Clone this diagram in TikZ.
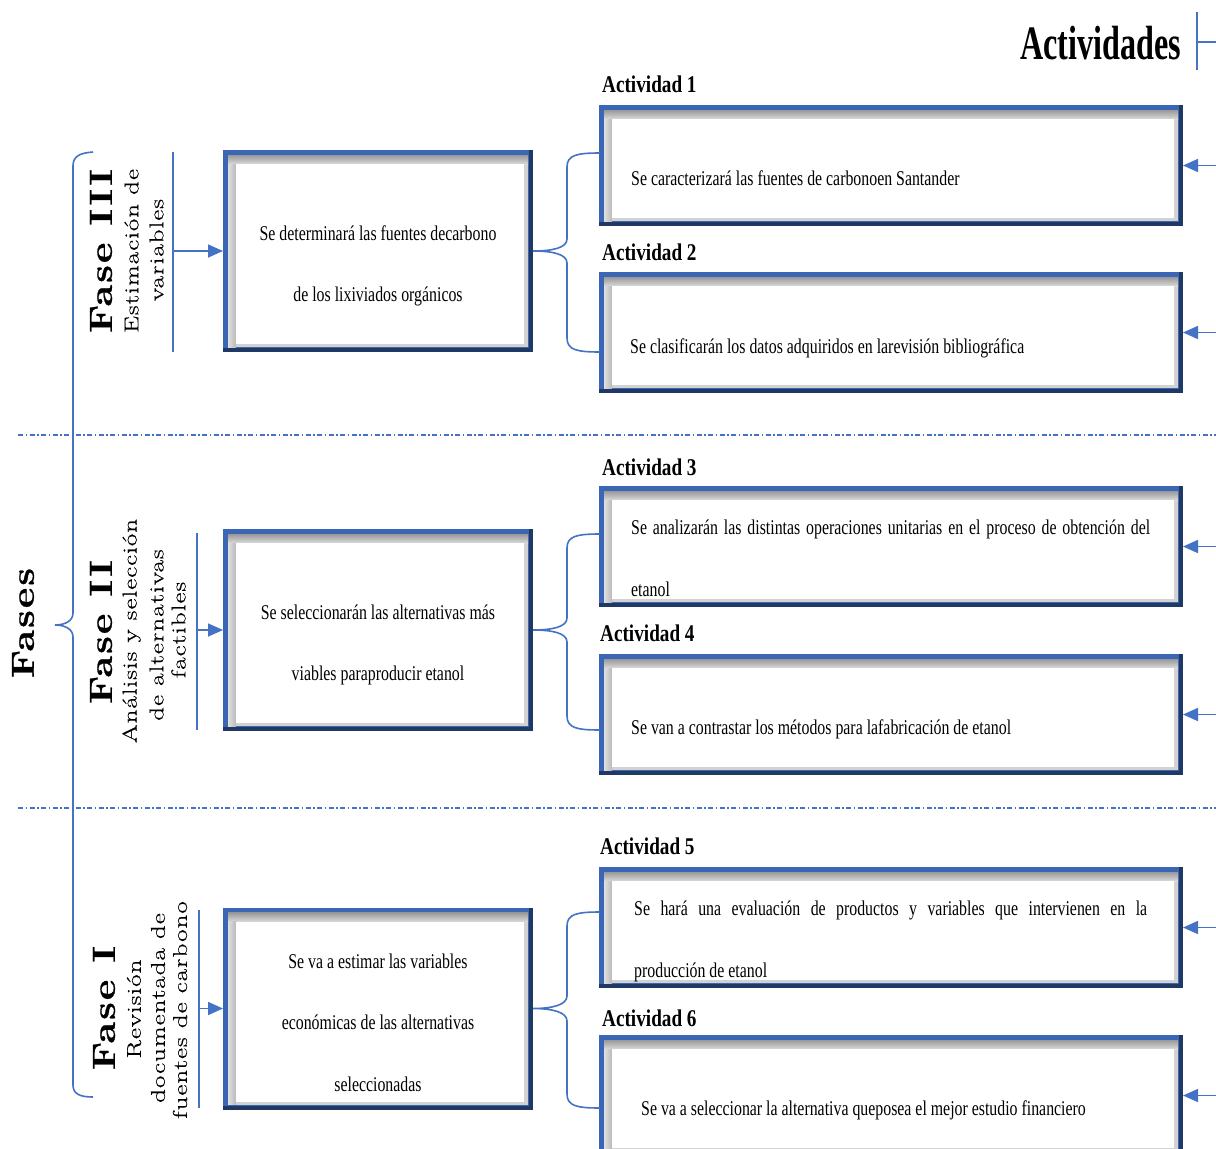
\documentclass[tikz,border=0pt]{standalone}
\usepackage{fontspec}
\usetikzlibrary{arrows.meta}
\newfontfamily\txtfont[FakeStretch=0.755]{Liberation Serif}
\newfontfamily\lblfont[FakeStretch=0.8]{Liberation Serif}
\newfontfamily\ttlfont[FakeStretch=0.67]{Liberation Serif}
\newfontfamily\fasefont[FakeStretch=1.25,LetterSpace=6,FakeBold=0.8]{Latin Modern Roman}
\newfontfamily\subfont[FakeStretch=1.35,LetterSpace=5,FakeBold=0.5]{Latin Modern Roman}
\definecolor{lineblue}{HTML}{4472C4}
\definecolor{navy}{HTML}{1F3864}
\definecolor{frameblue}{HTML}{3B65B5}
\tikzset{
  conn/.style={draw=lineblue, line width=1.6pt},
  arr/.style={conn, -{Triangle[length=15pt,width=13pt]}},
  dashdot/.style={draw=lineblue, line width=1.3pt, dash pattern=on 5pt off 2.5pt on 1.5pt off 2.5pt},
  bevelbox/.style={inner sep=0pt, outer sep=0pt, fill=navy,
    path picture={
      \fill[frameblue] ([yshift=4pt]path picture bounding box.south west) rectangle ([xshift=-4pt]path picture bounding box.north east);
      \fill[gray!35] ([shift={(5pt,5pt)}]path picture bounding box.south west) rectangle ([shift={(-5pt,-5pt)}]path picture bounding box.north east);
      \shade[top color=gray!80, bottom color=gray!30] ([shift={(5pt,-14pt)}]path picture bounding box.north west) rectangle ([shift={(-5pt,-5pt)}]path picture bounding box.north east);
      \shade[left color=gray!25, right color=gray!55] ([shift={(5pt,5pt)}]path picture bounding box.south west) rectangle ([shift={(13pt,-14pt)}]path picture bounding box.north west);
      \fill[white] ([shift={(13pt,8pt)}]path picture bounding box.south west) rectangle ([shift={(-9pt,-14pt)}]path picture bounding box.north east);
    }},
  actbox/.style={bevelbox, minimum width=584pt, minimum height=121pt},
  phbox/.style={bevelbox, minimum width=310pt, minimum height=202pt},
  txt/.style={font=\txtfont\fontsize{21}{21}\selectfont, inner sep=0pt},
  lbl/.style={font=\lblfont\bfseries\fontsize{24}{24}\selectfont, inner sep=0pt, anchor=base west},
  fase/.style={font=\fasefont\bfseries\fontsize{32}{32}\selectfont, rotate=90, inner sep=0pt},
  sub/.style={font=\subfont\fontsize{20}{20}\selectfont, rotate=90, inner sep=0pt},
}
\begin{document}
\begin{tikzpicture}[x=1pt,y=-1pt]
\clip (0,0) rectangle (1216,1149);
\fill[white] (0,0) rectangle (1216,1149);
\coordinate (R) at (1216,0);

% title
\node[font=\ttlfont\bfseries\fontsize{48}{48}\selectfont, inner sep=0pt, anchor=base west] (title) at (1020,59) {Actividades};
\coordinate (tb1) at (1197,12);
\coordinate (tb2) at (1197,70);
\coordinate (tb3) at (1197,42);
\draw[conn] (tb1) -- (tb2);
\draw[conn] (tb3) -- (tb3 -| R);

% separators
\draw[dashdot] (18,435) -- (1216,435);
\draw[dashdot] (18,808) -- (1216,808);

% activity boxes
\node[actbox] (a1) at (891,165.5) {};
\node[actbox] (a2) at (891,332.5) {};
\node[actbox] (a3) at (891,546.5) {};
\node[actbox] (a4) at (891,714.5) {};
\node[actbox] (a5) at (891,927.5) {};
\node[actbox] (a6) at (891,1095.5) {};

% phase boxes
\node[phbox] (p3) at (378,251) {};
\node[phbox] (p2) at (378,630) {};
\node[phbox] (p1) at (378,1008.5) {};

% activity labels
\node[lbl] (l1) at (602,92) {Actividad 1};
\node[lbl] (l2) at (602,260) {Actividad 2};
\node[lbl] (l3) at (602,475) {Actividad 3};
\node[lbl] (l4) at (600,641) {Actividad 4};
\node[lbl] (l5) at (600,854) {Actividad 5};
\node[lbl] (l6) at (602,1026) {Actividad 6};

% activity texts
\node[txt, anchor=base west] (t1) at (631,185) {Se caracterizará las fuentes de carbonoen Santander};
\node[txt, anchor=base west] (t2) at (630,353) {Se clasificarán los datos adquiridos en larevisión bibliográfica};
\node[txt, anchor=base west] (t3a) at (631,534) {\makebox[519pt][s]{Se analizarán las distintas operaciones unitarias en el proceso de obtención del}};
\node[txt, anchor=base west] (t3b) at (631,596) {etanol};
\node[txt, anchor=base west] (t4) at (631,734) {Se van a contrastar los métodos para lafabricación de etanol};
\node[txt, anchor=base west] (t5a) at (634,915) {\makebox[513pt][s]{Se hará una evaluación de productos y variables que intervienen en la}};
\node[txt, anchor=base west] (t5b) at (634,977) {producción de etanol};
\node[txt, anchor=base west] (t6) at (641,1115) {Se va a seleccionar la alternativa queposea el mejor estudio financiero};

% phase texts
\node[txt, anchor=base] (q3a) at (378,240) {Se determinará las fuentes decarbono};
\node[txt, anchor=base] (q3b) at (378,301) {de los lixiviados orgánicos};
\node[txt, anchor=base] (q2a) at (378,619) {Se seleccionarán las alternativas más};
\node[txt, anchor=base] (q2b) at (378,680) {viables paraproducir etanol};
\node[txt, anchor=base] (q1a) at (378,968) {Se va a estimar las variables};
\node[txt, anchor=base] (q1b) at (378,1029) {económicas de las alternativas};
\node[txt, anchor=base] (q1c) at (378,1091) {seleccionadas};

% right arrows
\foreach \n in {a1,a2,a3,a4,a5,a6}{
  \draw[arr] (\n.east -| R) -- (\n.east);
}

% right braces
\coordinate (b3t) at (600,153); \coordinate (b3b) at (600,352);
\coordinate (b2t) at (600,534); \coordinate (b2b) at (600,730);
\coordinate (b1t) at (600,912); \coordinate (b1b) at (600,1108);
\draw[conn] (b3t) .. controls (577,153) and (567,155) .. (567,167) -- (567,239)
  .. controls (567,248) and (552,251) .. (p3.east)
  .. controls (552,251) and (567,254) .. (567,263) -- (567,338)
  .. controls (567,350) and (577,352) .. (b3b);
\draw[conn] (b2t) .. controls (577,534) and (567,536) .. (567,548) -- (567,618)
  .. controls (567,627) and (552,630) .. (p2.east)
  .. controls (552,630) and (567,633) .. (567,642) -- (567,716)
  .. controls (567,728) and (577,730) .. (b2b);
\draw[conn] (b1t) .. controls (577,912) and (567,914) .. (567,926) -- (567,996)
  .. controls (567,1005) and (552,1008.5) .. (p1.east)
  .. controls (552,1008.5) and (567,1012) .. (567,1021) -- (567,1094)
  .. controls (567,1106) and (577,1108) .. (b1b);

% left phase lines with arrows
\coordinate (v3a) at (173,152); \coordinate (v3b) at (173,352); \coordinate (v3m) at (173,251);
\coordinate (v2a) at (197,533); \coordinate (v2b) at (197,730); \coordinate (v2m) at (197,630);
\coordinate (v1a) at (199,910); \coordinate (v1b) at (199,1108); \coordinate (v1m) at (199,1008.5);
\draw[conn] (v3a) -- (v3b);
\draw[conn] (v2a) -- (v2b);
\draw[conn] (v1a) -- (v1b);
\draw[arr] (v3m) -- (p3.west);
\draw[arr] (v2m) -- (p2.west);
\draw[arr] (v1m) -- (p1.west);

% phase titles
\node[fase] (f3) at (101,251) {Fase III};
\node[sub] (s3a) at (131.5,251) {Estimación de};
\node[sub] (s3b) at (156.5,250) {variables};
\node[fase] (f2) at (101,632) {Fase II};
\node[sub] (s2a) at (131.5,631) {Análisis y selección};
\node[sub] (s2b) at (156.5,635) {de alternativas};
\node[sub] (s2c) at (178.5,630) {factibles};
\node[fase] (f1) at (104,1008) {Fase I};
\node[sub] (s1a) at (134,1009) {Revisión};
\node[sub] (s1b) at (158,1008) {documentada de};
\node[sub] (s1c) at (180,1010) {fuentes de carbono};

% big brace
\coordinate (fbt) at (93,152);
\coordinate (fbb) at (93,1097);
\coordinate (fbm) at (55,625);
\draw[conn] (fbt) .. controls (80,153) and (73,156) .. (73,166) -- (73,613)
  .. controls (73,621) and (65,625) .. (fbm)
  .. controls (65,625) and (73,629) .. (73,637) -- (73,1085)
  .. controls (73,1094) and (80,1097) .. (fbb);
\node[fase] (fases) at (23,623) {Fases};
\end{tikzpicture}
\end{document}
